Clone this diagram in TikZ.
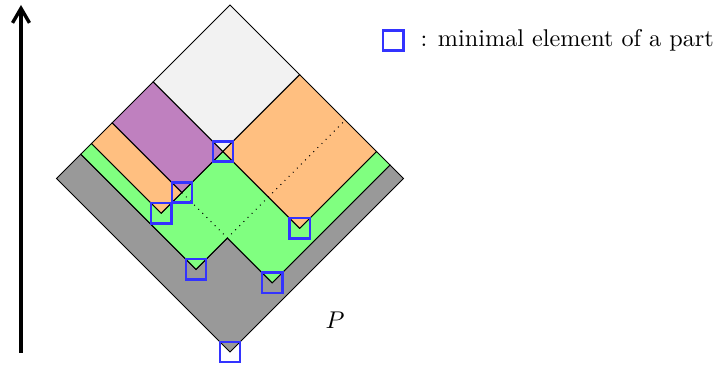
\documentclass[tikz,border=0pt]{standalone}
\usepackage{tikz}
\usetikzlibrary{arrows.meta, positioning}
\definecolor{partgray}{RGB}{153,153,153}
\definecolor{partlight}{RGB}{242,242,242}
\definecolor{partgreen}{RGB}{128,255,128}
\definecolor{partorange}{RGB}{255,191,128}
\definecolor{partviolet}{RGB}{191,128,191}
\definecolor{minblue}{RGB}{51,51,255}
\tikzset{
  part/.style={draw=black, line join=miter},
  minel/.style={draw=minblue, line width=1pt, minimum size=8.4pt, inner sep=0pt},
}

\begin{document}
\begin{tikzpicture}[x=0.413pt, y=0.413pt]
  \useasboundingbox (0,0) rectangle (718,366);
  % vertical axis
  \coordinate (lo) at (21,13);
  \coordinate (hi) at (21,361);
  \draw[line width=1.4pt, -{Straight Barb[length=6pt,width=7pt]}] (lo) -- (hi);
  % the poset, in coordinates turned by 45 degrees
  \begin{scope}[shift={(230,14)}, x={(0.413pt,0.413pt)}, y={(-0.413pt,0.413pt)}]
    \def\n{173.5}
    \def\xa{24.3} \def\xb{35} \def\xc{55.7} \def\xd{96.7}
    \def\ya{13.5} \def\yb{27} \def\yc{58.3} \def\yd{103.8}
    \filldraw[part, fill=partgray] (0,0) -- (\n,0) -- (\n,\ya) -- (\xc,\ya) -- (\xc,\yc)
      -- (\xa,\yc) -- (\xa,\n) -- (0,\n) -- cycle;
    \filldraw[part, fill=partgreen] (\xa,\yc) -- (\xc,\yc) -- (\xc,\ya) -- (\n,\ya) -- (\n,\yb)
      -- (\xd,\yb) -- (\xd,\yd) -- (\xb,\yd) -- (\xb,\n) -- (\xa,\n) -- cycle;
    \filldraw[part, fill=partorange] (\xb,\yd) -- (\xc,\yd) -- (\xc,\n) -- (\xb,\n) -- cycle;
    \filldraw[part, fill=partviolet] (\xc,\yd) -- (\xd,\yd) -- (\xd,\n) -- (\xc,\n) -- cycle;
    \filldraw[part, fill=partlight] (\xd,\yd) -- (\n,\yd) -- (\n,\n) -- (\xd,\n) -- cycle;
    \filldraw[part, fill=partorange] (\xd,\yb) -- (\n,\yb) -- (\n,\yd) -- (\xd,\yd) -- cycle;
    \draw[dotted] (\xc,\yd) -- (\xc,\yc) -- (\n,\yc);
    % minimal elements
    \node[minel] (m0) at (0,0) {};
    \node[minel] (m1) at (\xa,\yc) {};
    \node[minel] (m2) at (\xc,\ya) {};
    \node[minel] (m3) at (\xb,\yd) {};
    \node[minel] (m4) at (\xc,\yd) {};
    \node[minel] (m5) at (\xd,\yd) {};
    \node[minel] (m6) at (\xd,\yb) {};
  \end{scope}
  \node (p) at (335,46) {$P$};
  % legend
  \node[minel] (key) at (393.3,325.5) {};
  \node[right=3pt of key] (keytxt) {: minimal element of a part};
\end{tikzpicture}
\end{document}
